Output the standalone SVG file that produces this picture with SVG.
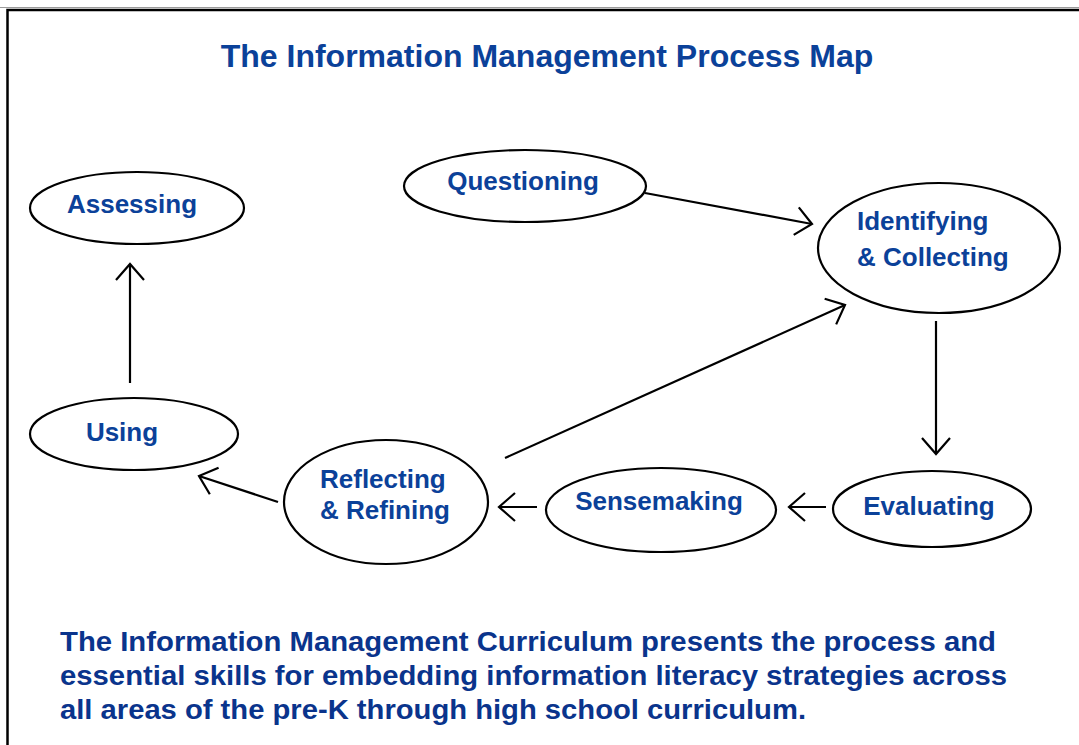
<svg xmlns="http://www.w3.org/2000/svg" width="1079" height="745" viewBox="0 0 1079 745">
  <style>
    .node ellipse { fill: #fff; stroke: #000; stroke-width: 2.2; }
    .label { font-family: "Liberation Sans", Arial, sans-serif; font-weight: bold; font-size: 26px; fill: #0b4199; }
    .title { font-family: "Liberation Sans", Arial, sans-serif; font-weight: bold; font-size: 32px; fill: #0b4199; }
    .caption { font-family: "Liberation Sans", Arial, sans-serif; font-weight: bold; font-size: 27px; fill: #0a348c; }
    .edge { fill: none; stroke: #000; stroke-width: 2.2; }
  </style>
  <defs>
    <marker id="arrow" markerUnits="userSpaceOnUse" markerWidth="40" markerHeight="40" viewBox="0 0 40 40" refX="20" refY="20" orient="auto">
      <path d="M4,6 L20,20 L4,34" fill="none" stroke="#000" stroke-width="2.2"/>
    </marker>
  </defs>

  <rect x="0" y="0" width="1079" height="745" fill="#fff"/>
  <!-- page frame -->
  <line x1="0" y1="7.5" x2="1079" y2="7.5" stroke="#9a9a9a" stroke-width="1"/>
  <rect x="7.5" y="10" width="1100" height="800" fill="none" stroke="#000" stroke-width="2.5"/>

  <text class="title" x="547" y="67" text-anchor="middle">The Information Management Process Map</text>

  <g id="connectors">
    <line class="edge" x1="645" y1="193" x2="812" y2="224" marker-end="url(#arrow)"/>
    <line class="edge" x1="936" y1="321" x2="936" y2="454" marker-end="url(#arrow)"/>
    <line class="edge" x1="505" y1="458" x2="845" y2="305" marker-end="url(#arrow)"/>
    <line class="edge" x1="826" y1="507" x2="789" y2="507" marker-end="url(#arrow)"/>
    <line class="edge" x1="537" y1="507" x2="499" y2="507" marker-end="url(#arrow)"/>
    <line class="edge" x1="278" y1="502" x2="199" y2="476" marker-end="url(#arrow)"/>
    <line class="edge" x1="130" y1="383" x2="130" y2="264" marker-end="url(#arrow)"/>
  </g>

  <g id="assessing" class="node">
    <ellipse cx="137" cy="208" rx="107" ry="36"/>
    <text class="label" x="132" y="213" text-anchor="middle">Assessing</text>
  </g>
  <g id="questioning" class="node">
    <ellipse cx="525" cy="186" rx="121" ry="36"/>
    <text class="label" x="523" y="190" text-anchor="middle">Questioning</text>
  </g>
  <g id="identifying" class="node">
    <ellipse cx="939" cy="248" rx="121" ry="65"/>
    <text class="label" x="857" y="230">Identifying</text>
    <text class="label" x="857" y="266">&amp; Collecting</text>
  </g>
  <g id="using" class="node">
    <ellipse cx="134" cy="434" rx="104" ry="36"/>
    <text class="label" x="122" y="441" text-anchor="middle">Using</text>
  </g>
  <g id="reflecting" class="node">
    <ellipse cx="386" cy="502" rx="102" ry="62"/>
    <text class="label" x="320" y="488">Reflecting</text>
    <text class="label" x="320" y="519">&amp; Refining</text>
  </g>
  <g id="sensemaking" class="node">
    <ellipse cx="661" cy="510" rx="115" ry="42"/>
    <text class="label" x="659" y="510" text-anchor="middle">Sensemaking</text>
  </g>
  <g id="evaluating" class="node">
    <ellipse cx="932" cy="509" rx="99" ry="38"/>
    <text class="label" x="929" y="515" text-anchor="middle">Evaluating</text>
  </g>

  <g id="caption">
    <text class="caption" x="60" y="651" textLength="936" lengthAdjust="spacingAndGlyphs">The Information Management Curriculum presents the process and</text>
    <text class="caption" x="60" y="685" textLength="947" lengthAdjust="spacingAndGlyphs">essential skills for embedding information literacy strategies across</text>
    <text class="caption" x="60" y="719" textLength="746" lengthAdjust="spacingAndGlyphs">all areas of the pre-K through high school curriculum.</text>
  </g>
</svg>
